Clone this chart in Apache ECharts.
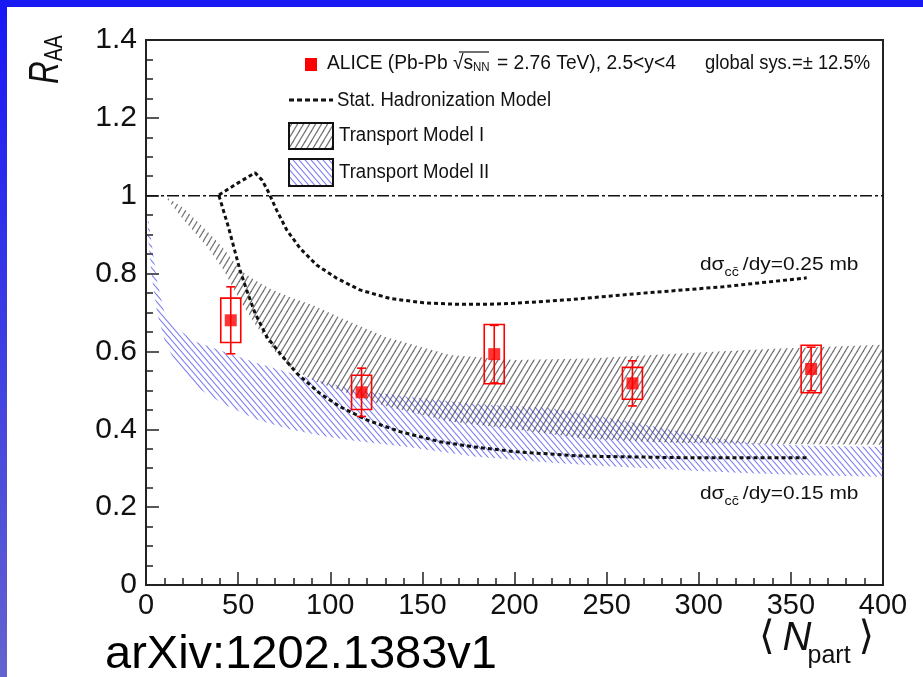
<!DOCTYPE html>
<html>
<head>
<meta charset="utf-8">
<script src="https://cdn.jsdelivr.net/npm/echarts@6/dist/echarts.min.js"></script>
<style>
  html, body { margin: 0; padding: 0; background: #fff; }
  #chart { width: 923px; height: 677px; }
</style>
</head>
<body>
<div id="chart"></div>
<script>
// ALICE J/psi nuclear modification factor vs <Npart>, Pb-Pb 2.76 TeV, 2.5<y<4
const npart   = [46, 117, 189, 264, 361];
const raa     = [0.68, 0.495, 0.593, 0.518, 0.555];
const statErr = [0.086, 0.062, 0.074, 0.058, 0.056];
const sysErr  = [0.057, 0.044, 0.076, 0.041, 0.061];

// Statistical hadronization model, dsigma_cc/dy = 0.25 mb
const shmHighX = [39.6, 45, 50, 55, 59.2, 63, 66.4, 70.9, 76.4, 83.6, 92.6, 103.5, 116.1, 132.4, 150.5, 168.6, 185, 201.2, 230, 268, 313, 358.6];
const shmHighY = [1.002, 1.018, 1.033, 1.047, 1.059, 1.04, 1.010, 0.963, 0.912, 0.865, 0.822, 0.788, 0.758, 0.736, 0.725, 0.721, 0.721, 0.724, 0.733, 0.749, 0.766, 0.789];

// Statistical hadronization model, dsigma_cc/dy = 0.15 mb
const shmLowX = [39.6, 44.7, 51.0, 54.6, 59.2, 65.5, 72.7, 81.8, 94.4, 105.3, 119.8, 137.8, 159.6, 177.6, 201.2, 237.3, 291.6, 358.6];
const shmLowY = [1.0, 0.920, 0.809, 0.758, 0.698, 0.638, 0.595, 0.544, 0.492, 0.458, 0.424, 0.394, 0.368, 0.355, 0.342, 0.331, 0.327, 0.327];

// Transport Model I band
const tm1X    = [10, 20, 33, 42, 51, 60, 69, 78, 91, 105, 130, 165, 200, 240, 290, 340, 400];
const tm1High = [1.0, 0.97, 0.91, 0.865, 0.809, 0.78, 0.757, 0.74, 0.718, 0.688, 0.637, 0.591, 0.578, 0.582, 0.595, 0.607, 0.617];
const tm1Low  = [1.0, 0.94, 0.87, 0.81, 0.73, 0.665, 0.605, 0.56, 0.525, 0.50, 0.46, 0.42, 0.40, 0.375, 0.365, 0.362, 0.36];

// Transport Model II band
const tm2X    = [1, 3, 6, 10, 15, 27, 42, 60, 78, 96, 114, 141, 178, 219, 250, 273, 300, 328, 360, 400];
const tm2High = [0.95, 0.88, 0.78, 0.70, 0.665, 0.625, 0.60, 0.57, 0.545, 0.522, 0.501, 0.484, 0.465, 0.455, 0.43, 0.41, 0.385, 0.365, 0.358, 0.355];
const tm2Low  = [0.90, 0.80, 0.70, 0.63, 0.58, 0.51, 0.465, 0.425, 0.40, 0.383, 0.37, 0.355, 0.33, 0.315, 0.305, 0.30, 0.293, 0.287, 0.282, 0.278];

// Reference line R_AA = 1
const unityX = [0, 400];
const unityY = [1, 1];

const xTickLabels = ['0', '50', '100', '150', '200', '250', '300', '350', '400'];
const yTickLabels = ['0', '0.2', '0.4', '0.6', '0.8', '1', '1.2', '1.4'];

// ---------- helpers ----------
const SANS = "'Liberation Sans', Arial, sans-serif";

function hatch(w, h, color, lw, forward) {
  const c = document.createElement('canvas');
  c.width = w; c.height = h;
  const ctx = c.getContext('2d');
  ctx.strokeStyle = color;
  ctx.lineWidth = lw;
  for (let k = -1; k <= 1; k++) {
    ctx.beginPath();
    if (forward) { // '/'
      ctx.moveTo(k * w - w, 2 * h);
      ctx.lineTo(k * w + 2 * w, -h);
    } else {       // '\'
      ctx.moveTo(k * w - w, -h);
      ctx.lineTo(k * w + 2 * w, 2 * h);
    }
    ctx.stroke();
  }
  return c;
}
const grayPattern = hatch(6, 10, 'rgba(55,55,55,0.70)', 1.2, true);
const bluePattern = hatch(6, 7, 'rgba(70,70,235,0.72)', 1.1, false);

const measureCtx = document.createElement('canvas').getContext('2d');
function textWidth(str, size, italic, family) {
  measureCtx.font = (italic ? 'italic ' : '') + size + 'px ' + (family || SANS);
  return measureCtx.measureText(str).width;
}
// Lays out a run of text pieces (with optional sub/superscript shifts) left to right.
function runText(parts, x0, y, sx, color) {
  const out = [];
  let x = x0;
  sx = sx || 1;
  parts.forEach(p => {
    const fam = p.family || SANS;
    out.push({
      type: 'text', x: x, y: y + (p.dy || 0), scaleX: sx, silent: true, z: 20,
      style: {
        text: p.t, fontSize: p.size, fontFamily: fam,
        fontStyle: p.italic ? 'italic' : 'normal',
        fill: color || '#111',
        textAlign: 'left', align: 'left',
        textVerticalAlign: 'middle', verticalAlign: 'middle'
      }
    });
    x += textWidth(p.t, p.size, p.italic, fam) * sx + (p.gap || 0);
  });
  return out;
}

function bandSeries(xs, hi, lo, pattern) {
  return {
    type: 'custom', silent: true, z: 1, clip: true,
    data: [[xs[0], lo[0]]],
    renderItem: function (params, api) {
      const pts = [];
      for (let i = 0; i < xs.length; i++) pts.push(api.coord([xs[i], hi[i]]));
      for (let i = xs.length - 1; i >= 0; i--) pts.push(api.coord([xs[i], lo[i]]));
      return {
        type: 'polygon', shape: { points: pts },
        style: { fill: { image: pattern, repeat: 'repeat' }, stroke: null }
      };
    }
  };
}

// ---------- chart ----------
const chart = echarts.init(document.getElementById('chart'), null, { renderer: 'canvas' });

const legendX = 289;
const graphics = [
  // slide frame
  { type: 'rect', shape: { x: 0, y: 0, width: 7, height: 677 }, silent: true, z: 0,
    style: { fill: { type: 'linear', x: 0, y: 0, x2: 0, y2: 1,
      colorStops: [{ offset: 0, color: '#1717f7' }, { offset: 1, color: '#6363cf' }] } } },
  { type: 'rect', shape: { x: 0, y: 0, width: 923, height: 7 }, silent: true, z: 0,
    style: { fill: '#1919f4' } },

  // legend
  { type: 'rect', shape: { x: 305, y: 58, width: 12, height: 13 }, silent: true, z: 20, style: { fill: '#ff0000' } },
  { type: 'line', shape: { x1: legendX, y1: 100, x2: 333, y2: 100 }, silent: true, z: 20,
    style: { stroke: '#111', lineWidth: 3, lineDash: [5, 3] } },
  { type: 'rect', shape: { x: legendX, y: 123, width: 44, height: 26 }, silent: true, z: 20,
    style: { fill: { image: grayPattern, repeat: 'repeat' }, stroke: '#111', lineWidth: 2 } },
  { type: 'rect', shape: { x: legendX, y: 159, width: 44, height: 27 }, silent: true, z: 20,
    style: { fill: { image: bluePattern, repeat: 'repeat' }, stroke: '#111', lineWidth: 2 } },
  // sqrt overline
  { type: 'line', shape: { x1: 459, y1: 52, x2: 489, y2: 52 }, silent: true, z: 20,
    style: { stroke: '#111', lineWidth: 1.2 } }
];

graphics.push(...runText([
  { t: 'ALICE (Pb-Pb \u221A', size: 20 },
  { t: 's', size: 20 },
  { t: 'NN', size: 12, dy: 5, gap: 2 },
  { t: ' = 2.76 TeV), 2.5<y<4', size: 20 }
], 327, 63, 0.96));
graphics.push(...runText([{ t: 'global sys.=\u00B1 12.5%', size: 20 }], 705, 63, 0.92));
graphics.push(...runText([{ t: 'Stat. Hadronization Model', size: 20 }], 337, 100, 0.93));
graphics.push(...runText([{ t: 'Transport Model I', size: 20 }], 339, 135, 0.93));
graphics.push(...runText([{ t: 'Transport Model II', size: 20 }], 339, 172, 0.93));

// model curve annotations
graphics.push(...runText([
  { t: 'd\u03C3', size: 19 },
  { t: 'cc\u0304', size: 13, dy: 7, gap: 4 },
  { t: '/dy=0.25 mb', size: 19 }
], 700, 265, 1.1));
graphics.push(...runText([
  { t: 'd\u03C3', size: 19 },
  { t: 'cc\u0304', size: 13, dy: 7, gap: 4 },
  { t: '/dy=0.15 mb', size: 19 }
], 700, 494, 1.1));

// axis titles
graphics.push({
  type: 'group', x: 46, y: 84, rotation: Math.PI / 2, silent: true, z: 20,
  children: runText([
    { t: 'R', size: 42, italic: true },
    { t: 'AA', size: 26, dy: 9 }
  ], 0, 0, 0.75)
});
graphics.push(...runText([
  { t: '\u27E8', size: 40, family: "'DejaVu Sans', sans-serif", gap: 8 },
  { t: 'N', size: 40, italic: true, gap: -4 },
  { t: 'part', size: 25, dy: 17, gap: 8 },
  { t: '\u27E9', size: 40, family: "'DejaVu Sans', sans-serif" }
], 759, 639, 1));

graphics.push(...runText([{ t: 'arXiv:1202.1383v1', size: 47 }], 105, 655, 1, '#000'));

const points = npart.map((n, i) => [n, raa[i], statErr[i], sysErr[i]]);

const option = {
  animation: false,
  backgroundColor: '#fff',
  grid: { left: 146, right: 40, top: 40, bottom: 92, show: true, borderColor: '#222', borderWidth: 2, backgroundColor: 'transparent' },
  xAxis: {
    type: 'value', min: 0, max: 400, interval: 50,
    axisLine: { show: true, onZero: false, lineStyle: { color: '#222', width: 2 } },
    axisTick: { show: true, inside: true, length: 13, lineStyle: { color: '#222', width: 1.5 } },
    minorTick: { show: true, splitNumber: 5, length: 7, lineStyle: { color: '#222', width: 1.5 } },
    splitLine: { show: false },
    axisLabel: {
      margin: 6, fontSize: 29, color: '#111', fontFamily: SANS,
      formatter: v => xTickLabels[Math.round(v / 50)]
    }
  },
  yAxis: {
    type: 'value', min: 0, max: 1.4, interval: 0.2,
    axisLine: { show: true, onZero: false, lineStyle: { color: '#222', width: 2 } },
    axisTick: { show: true, inside: true, length: 13, lineStyle: { color: '#222', width: 1.5 } },
    minorTick: { show: true, splitNumber: 4, length: 7, lineStyle: { color: '#222', width: 1.5 } },
    splitLine: { show: false },
    axisLabel: {
      margin: 9, fontSize: 30, color: '#111', fontFamily: SANS,
      formatter: v => yTickLabels[Math.round(v / 0.2)]
    }
  },
  graphic: { elements: graphics },
  series: [
    bandSeries(tm2X, tm2High, tm2Low, bluePattern),
    bandSeries(tm1X, tm1High, tm1Low, grayPattern),
    {
      type: 'line', z: 2, silent: true, showSymbol: false, symbol: 'none',
      data: unityX.map((x, i) => [x, unityY[i]]),
      lineStyle: { color: '#111', width: 1.5, type: [12, 3, 3, 3] }
    },
    {
      type: 'line', z: 3, silent: true, showSymbol: false, symbol: 'none',
      data: shmHighX.map((x, i) => [x, shmHighY[i]]),
      lineStyle: { color: '#111', width: 3, type: [4, 3] }
    },
    {
      type: 'line', z: 3, silent: true, showSymbol: false, symbol: 'none',
      data: shmLowX.map((x, i) => [x, shmLowY[i]]),
      lineStyle: { color: '#111', width: 3, type: [4, 3] }
    },
    {
      type: 'custom', z: 4, silent: true,
      data: points,
      renderItem: function (params, api) {
        const x = api.value(0), y = api.value(1), st = api.value(2), sy = api.value(3);
        const c = api.coord([x, y]);
        const t = api.coord([x, y + st]);
        const b = api.coord([x, y - st]);
        const sT = api.coord([x, y + sy]);
        const sB = api.coord([x, y - sy]);
        const hw = 10, cap = 4.5;
        const red = { stroke: '#ff0000', lineWidth: 1.6, fill: null };
        return {
          type: 'group', children: [
            { type: 'rect', shape: { x: c[0] - hw, y: sT[1], width: 2 * hw, height: sB[1] - sT[1] }, style: red },
            { type: 'line', shape: { x1: c[0], y1: t[1], x2: c[0], y2: b[1] }, style: red },
            { type: 'line', shape: { x1: c[0] - cap, y1: t[1], x2: c[0] + cap, y2: t[1] }, style: red },
            { type: 'line', shape: { x1: c[0] - cap, y1: b[1], x2: c[0] + cap, y2: b[1] }, style: red }
          ]
        };
      }
    },
    {
      type: 'scatter', z: 5, silent: true,
      symbol: 'rect', symbolSize: 12,
      itemStyle: { color: '#ff0000' },
      data: npart.map((n, i) => [n, raa[i]])
    }
  ]
};

chart.setOption(option);
</script>
</body>
</html>
